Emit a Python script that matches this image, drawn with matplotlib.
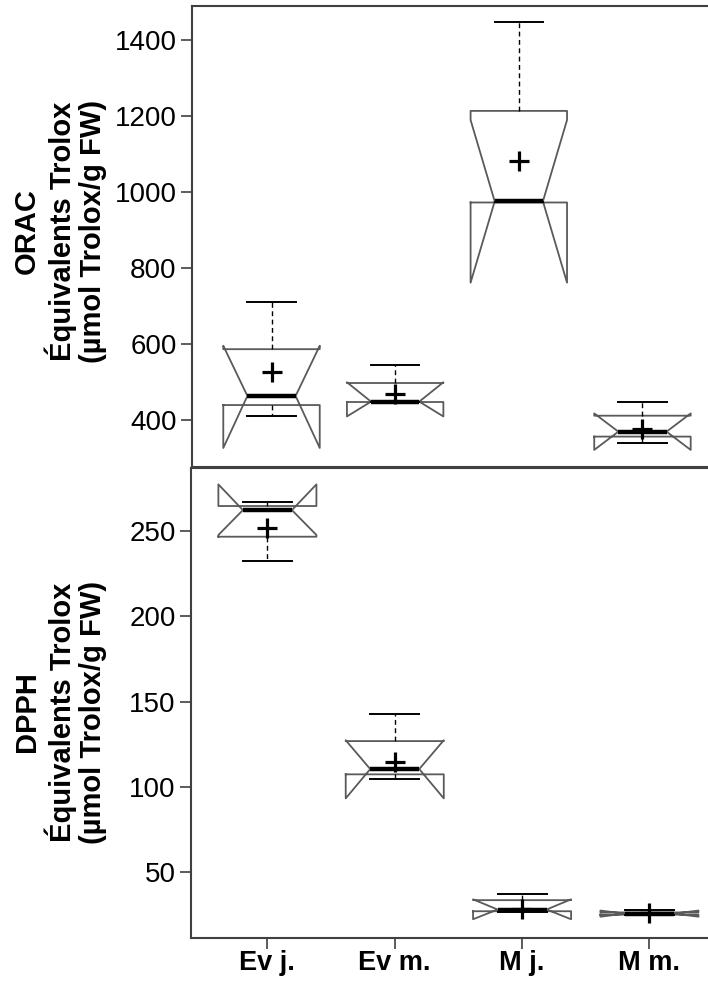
import matplotlib
matplotlib.use("Agg")
import matplotlib.pyplot as plt

plt.rcParams['font.family'] = ['Liberation Sans', 'DejaVu Sans']

categories = ["Ev j.", "Ev m.", "M j.", "M m."]

# ORAC (µmol Trolox/g FW)
orac_whislo = [411, 447, 972, 340]
orac_q1 = [439, 447, 972, 356]
orac_med = [463, 448, 975, 369]
orac_q3 = [586, 497, 1213, 411]
orac_whishi = [709, 544, 1446, 447]
orac_cilo = [326, 409, 761, 321]
orac_cihi = [595, 499, 1189, 417]
orac_mean = [527, 469, 1080, 376]

# DPPH (µmol Trolox/g FW)
dpph_whislo = [232.6, 104.5, 26.5, 24.5]
dpph_q1 = [246.7, 107.3, 27.0, 25.0]
dpph_med = [262.3, 110.4, 28.0, 25.6]
dpph_q3 = [264.7, 126.8, 33.5, 26.3]
dpph_whishi = [267.2, 142.8, 37.0, 28.0]
dpph_cilo = [247.7, 93.2, 22.3, 23.8]
dpph_cihi = [277.4, 127.3, 34.0, 27.4]
dpph_mean = [252.0, 114.7, 28.5, 25.8]

orac_ticks = [400, 600, 800, 1000, 1200, 1400]
dpph_ticks = [50, 100, 150, 200, 250]

W, H = 708, 983
fig = plt.figure(figsize=(W / 100, H / 100), dpi=100)

def fx(px):
    return px / W

def fy(py):
    return 1 - py / H

ax1 = fig.add_axes([fx(192), fy(467), 1 - fx(192), fy(6) - fy(467)])
ax2 = fig.add_axes([fx(191), fy(938), 1 - fx(191), fy(468) - fy(938)])

spine_col = "#404040"
box_col = "#5a5a5a"

def make_stats(whislo, q1, med, q3, whishi, cilo, cihi, mean):
    stats = []
    for i in range(len(categories)):
        stats.append(dict(label=categories[i], whislo=whislo[i], q1=q1[i], med=med[i],
                          q3=q3[i], whishi=whishi[i], cilo=cilo[i], cihi=cihi[i],
                          mean=mean[i], fliers=[]))
    return stats

def draw(ax, stats, width):
    ax.bxp(stats, positions=range(1, len(stats) + 1), widths=width, shownotches=True,
           showmeans=True, showfliers=False,
           boxprops=dict(color=box_col, linewidth=1.3),
           medianprops=dict(color="black", linewidth=3.2, solid_capstyle="butt"),
           whiskerprops=dict(color="black", linewidth=1.0, linestyle=(0, (3.5, 2.5))),
           capprops=dict(color="black", linewidth=1.4),
           meanprops=dict(marker="+", markersize=15, markeredgewidth=2.3,
                          markeredgecolor="black", markerfacecolor="black"))
    for s in ax.spines.values():
        s.set_color(spine_col)
        s.set_linewidth(1.5)
    ax.spines['right'].set_visible(False)
    ax.tick_params(axis='y', direction='out', length=8, width=1.2, color=spine_col,
                   labelsize=20, pad=3)

draw(ax1, make_stats(orac_whislo, orac_q1, orac_med, orac_q3, orac_whishi,
                     orac_cilo, orac_cihi, orac_mean), 0.78)
draw(ax2, make_stats(dpph_whislo, dpph_q1, dpph_med, dpph_q3, dpph_whishi,
                     dpph_cilo, dpph_cihi, dpph_mean), 0.77)

ax1.set_ylim(276, 1489)
ax1.set_xlim(0.357, 4.53)
ax1.set_yticks(orac_ticks)
ax1.set_yticklabels([str(t) for t in orac_ticks])
ax1.tick_params(axis='x', bottom=False, labelbottom=False)

ax2.set_ylim(11.3, 287)
ax2.set_xlim(0.40, 4.46)
ax2.set_yticks(dpph_ticks)
ax2.set_yticklabels([str(t) for t in dpph_ticks])
ax2.set_xticks(range(1, len(categories) + 1))
ax2.set_xticklabels(categories, fontsize=19.5, fontweight="bold")
ax2.tick_params(axis='x', direction='out', length=8, width=1.2, color=spine_col, pad=1)

fig.text(fx(60), fy(231), "ORAC\nÉquivalents Trolox\n(µmol Trolox/g FW)", rotation=90,
         ha="center", va="center", multialignment="center", fontsize=21,
         fontweight="bold", linespacing=1.12)
fig.text(fx(60), fy(712), "DPPH\nÉquivalents Trolox\n(µmol Trolox/g FW)", rotation=90,
         ha="center", va="center", multialignment="center", fontsize=21,
         fontweight="bold", linespacing=1.12)

fig.savefig("out.png", dpi=100, facecolor="white")
